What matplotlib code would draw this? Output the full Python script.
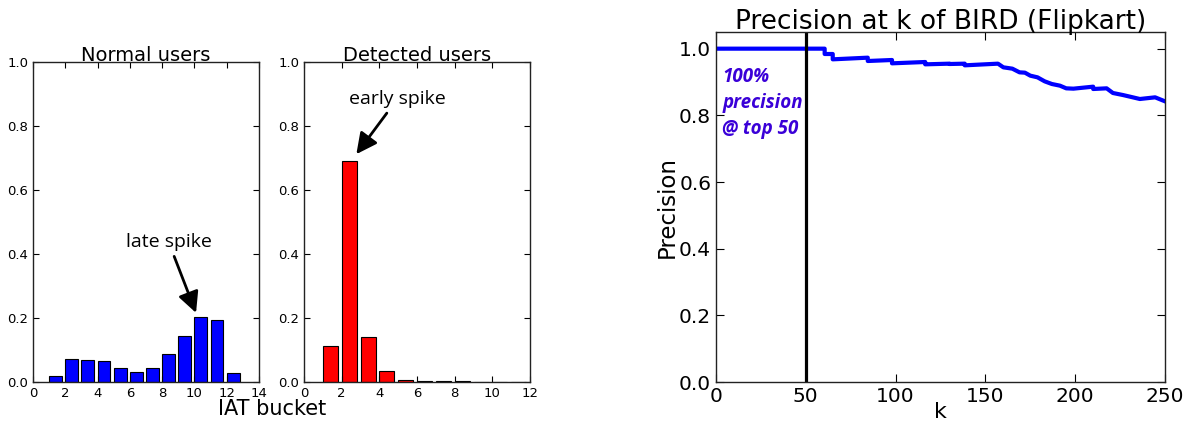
import matplotlib
matplotlib.use("Agg")
import matplotlib.pyplot as plt

# ---- data ----
normal_buckets = [1, 2, 3, 4, 5, 6, 7, 8, 9, 10, 11, 12]
normal_values = [0.020, 0.073, 0.068, 0.065, 0.045, 0.030, 0.045, 0.088, 0.145, 0.203, 0.193, 0.028]

detected_buckets = [1, 2, 3, 4, 5, 6, 7, 8, 9, 10, 11]
detected_values = [0.112, 0.692, 0.140, 0.035, 0.007, 0.002, 0.002, 0.002, 0.0, 0.0, 0.0]

k_points = [0, 60.5, 60.5, 65, 65, 84.5, 84.5, 98, 98, 116.5, 116.5, 130, 130, 138.5, 138.5,
            157, 160, 165, 169, 172, 175, 179, 183, 187, 191.5, 195, 199, 210, 210,
            217.5, 221, 226.5, 230.5, 236, 244.5, 250]
precision_points = [1.0, 1.0, 0.984, 0.984, 0.968, 0.973, 0.963, 0.966, 0.956, 0.960, 0.953, 0.955, 0.954, 0.955, 0.950,
                    0.955, 0.944, 0.940, 0.929, 0.928, 0.919, 0.914, 0.902, 0.894, 0.889, 0.881, 0.880, 0.886, 0.879,
                    0.881, 0.867, 0.861, 0.856, 0.849, 0.854, 0.842]
cutoff_k = 50

W, H = 1188, 423
fig = plt.figure(figsize=(W / 100, H / 100), dpi=100)

def frac(l, r, b, t):
    return [l / W, 1 - b / H, (r - l) / W, (b - t) / H]

ax1 = fig.add_axes(frac(33, 259, 382, 62))
ax2 = fig.add_axes(frac(304, 530, 382, 62))
ax3 = fig.add_axes(frac(716, 1165, 382, 32))

for ax in (ax1, ax2, ax3):
    ax.tick_params(direction='in', top=True, right=True, length=4, width=0.8)
    for s in ax.spines.values():
        s.set_linewidth(1.0)
        s.set_color('#222222')

arrow_style = dict(arrowstyle='-|>,head_length=0.9,head_width=0.45', lw=2, color='black',
                   shrinkA=2, shrinkB=0)

ax1.bar(normal_buckets, normal_values, width=0.8, align='edge', color='#0000ff', edgecolor='black', linewidth=0.8)
ax1.set_xlim(0, 14)
ax1.set_ylim(0, 1.0)
ax1.set_xticks(range(0, 15, 2))
ax1.set_yticks([0, 0.2, 0.4, 0.6, 0.8, 1.0])
ax1.set_yticklabels(['0.0', '0.2', '0.4', '0.6', '0.8', '1.0'])
ax1.tick_params(labelsize=9.5)
ax1.set_title('Normal users', fontsize=14, pad=1)
ax1.annotate('late spike', xy=(10.1, 0.216), xytext=(8.4, 0.4375),
             ha='center', va='center', fontsize=14, family='Open Sans',
             arrowprops=arrow_style)

ax2.bar(detected_buckets, detected_values, width=0.8, align='edge', color='#ff0000', edgecolor='black', linewidth=0.8)
ax2.set_xlim(0, 12)
ax2.set_ylim(0, 1.0)
ax2.set_xticks(range(0, 13, 2))
ax2.set_yticks([0, 0.2, 0.4, 0.6, 0.8, 1.0])
ax2.set_yticklabels(['0.0', '0.2', '0.4', '0.6', '0.8', '1.0'])
ax2.tick_params(labelsize=9.5)
ax2.set_title('Detected users', fontsize=14, pad=1)
ax2.annotate('early spike', xy=(2.78, 0.712), xytext=(4.95, 0.884),
             ha='center', va='center', fontsize=14, family='Open Sans',
             arrowprops=arrow_style)

fig.text(272 / W, 1 - 409 / H, 'IAT bucket', ha='center', va='center', fontsize=15)

ax3.plot(k_points, precision_points, color='#0000ff', lw=3)
ax3.axvline(cutoff_k, color='black', lw=2.3)
ax3.set_xlim(0, 250)
ax3.set_ylim(0, 1.05)
ax3.set_xticks([0, 50, 100, 150, 200, 250])
ax3.set_yticks([0, 0.2, 0.4, 0.6, 0.8, 1.0])
ax3.set_yticklabels(['0.0', '0.2', '0.4', '0.6', '0.8', '1.0'])
ax3.tick_params(labelsize=14.5, length=6)
ax3.set_title('Precision at k of BIRD (Flipkart)', fontsize=19, pad=2)
ax3.set_xlabel('k', fontsize=16, labelpad=-3)
ax3.set_ylabel('Precision', fontsize=16.5, labelpad=0)
ax3.text(3.5, 0.945, '100%\nprecision\n@ top 50', ha='left', va='top', fontsize=13.5,
         color='#3a00d8', family='Open Sans', style='italic', weight='bold', linespacing=1.4)

fig.savefig('out.png', dpi=100)
